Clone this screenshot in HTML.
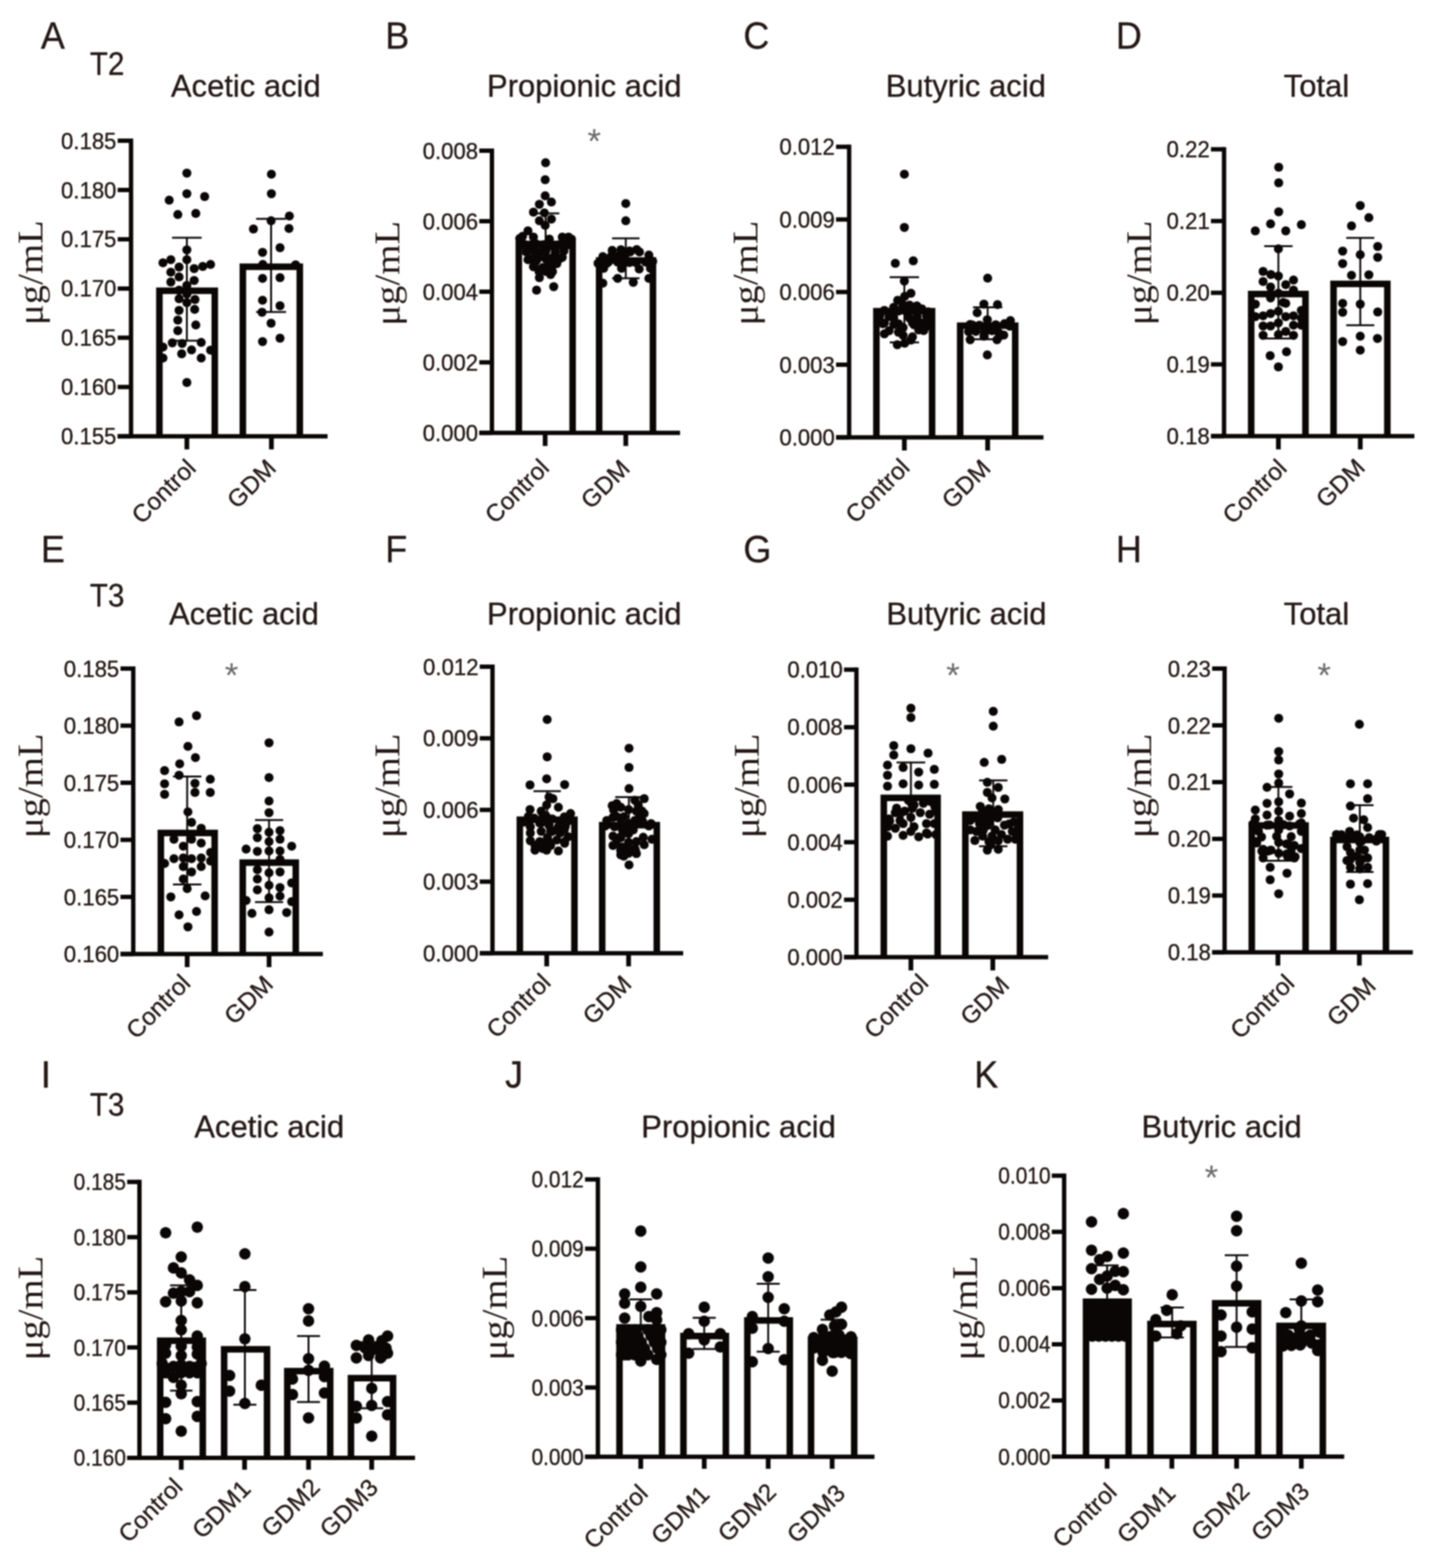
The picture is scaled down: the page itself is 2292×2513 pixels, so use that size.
<!DOCTYPE html>
<html lang="en"><head><meta charset="utf-8"><title>SCFA levels: Control vs GDM</title>
<style>html,body{margin:0;padding:0;background:#fff}body{width:2292px;height:2513px;overflow:hidden}svg{display:block;filter:blur(0.85px)}</style>
</head><body>
<svg width="2292" height="2513" viewBox="0 0 2292 2513">
<rect width="2292" height="2513" fill="#fff"/>
<g stroke="#0a0606" fill="none">
<path d="M255.50 699.15V466.00H344.25V699.15" stroke-width="10.5" fill="#fff" stroke-linejoin="miter"/>
<path d="M389.25 699.15V427.50H480.50V699.15" stroke-width="10.5" fill="#fff" stroke-linejoin="miter"/>
<path d="M275.75 381.00H323.25M299.50 381.00V546.00M275.75 546.00H323.25" stroke-width="3.0"/>
<path d="M410.50 350.75H458.50M434.50 350.75V500.00M410.50 500.00H458.50" stroke-width="3.0"/>
<path d="M210.00 222.10V699.15M188.60 699.15H525.00" stroke-width="7.0"/>
<path d="M188.60 225.60H210.00M188.60 304.52H210.00M188.60 383.45H210.00M188.60 462.38H210.00M188.60 541.30H210.00M188.60 620.23H210.00M188.60 699.15H210.00" stroke-width="7.0"/>
<path d="M299.50 699.15V720.25M435.00 699.15V720.25" stroke-width="7.6"/>
</g>
<g fill="#0a0606">
<circle cx="299.5" cy="277.5" r="7.25"/>
<circle cx="299.5" cy="310.5" r="7.25"/>
<circle cx="271.2" cy="320.8" r="7.25"/>
<circle cx="328.0" cy="315.0" r="7.25"/>
<circle cx="285.0" cy="343.8" r="7.25"/>
<circle cx="313.8" cy="342.0" r="7.25"/>
<circle cx="299.5" cy="400.5" r="7.25"/>
<circle cx="299.5" cy="416.2" r="7.25"/>
<circle cx="261.2" cy="421.2" r="7.25"/>
<circle cx="273.8" cy="416.2" r="7.25"/>
<circle cx="287.0" cy="428.0" r="7.25"/>
<circle cx="311.2" cy="430.5" r="7.25"/>
<circle cx="325.0" cy="427.0" r="7.25"/>
<circle cx="337.5" cy="423.8" r="7.25"/>
<circle cx="273.8" cy="436.2" r="7.25"/>
<circle cx="287.0" cy="443.8" r="7.25"/>
<circle cx="273.8" cy="452.0" r="7.25"/>
<circle cx="311.2" cy="449.5" r="7.25"/>
<circle cx="299.5" cy="457.5" r="7.25"/>
<circle cx="287.0" cy="465.0" r="7.25"/>
<circle cx="299.5" cy="471.2" r="7.25"/>
<circle cx="287.0" cy="478.8" r="7.25"/>
<circle cx="312.5" cy="480.0" r="7.25"/>
<circle cx="299.5" cy="485.0" r="7.25"/>
<circle cx="287.0" cy="497.5" r="7.25"/>
<circle cx="312.0" cy="495.8" r="7.25"/>
<circle cx="285.0" cy="513.0" r="7.25"/>
<circle cx="313.8" cy="520.8" r="7.25"/>
<circle cx="285.0" cy="530.0" r="7.25"/>
<circle cx="276.2" cy="549.5" r="7.25"/>
<circle cx="292.0" cy="550.5" r="7.25"/>
<circle cx="322.5" cy="548.8" r="7.25"/>
<circle cx="261.2" cy="556.2" r="7.25"/>
<circle cx="307.0" cy="560.8" r="7.25"/>
<circle cx="337.5" cy="561.2" r="7.25"/>
<circle cx="291.2" cy="567.0" r="7.25"/>
<circle cx="261.2" cy="573.8" r="7.25"/>
<circle cx="322.5" cy="573.8" r="7.25"/>
<circle cx="299.5" cy="613.0" r="7.25"/>
<circle cx="435.0" cy="279.2" r="7.25"/>
<circle cx="435.0" cy="310.5" r="7.25"/>
<circle cx="463.8" cy="346.2" r="7.25"/>
<circle cx="434.5" cy="353.8" r="7.25"/>
<circle cx="406.2" cy="367.0" r="7.25"/>
<circle cx="463.2" cy="366.2" r="7.25"/>
<circle cx="448.8" cy="397.0" r="7.25"/>
<circle cx="420.8" cy="404.5" r="7.25"/>
<circle cx="421.2" cy="423.8" r="7.25"/>
<circle cx="473.8" cy="424.5" r="7.25"/>
<circle cx="420.8" cy="446.2" r="7.25"/>
<circle cx="448.8" cy="445.0" r="7.25"/>
<circle cx="420.8" cy="481.2" r="7.25"/>
<circle cx="448.8" cy="490.0" r="7.25"/>
<circle cx="420.0" cy="500.5" r="7.25"/>
<circle cx="434.5" cy="518.0" r="7.25"/>
<circle cx="448.8" cy="542.0" r="7.25"/>
<circle cx="420.8" cy="547.5" r="7.25"/>
</g>
<g stroke="#0a0606" fill="none">
<path d="M831.55 693.70V391.00H917.80V693.70" stroke-width="10.5" fill="#fff" stroke-linejoin="miter"/>
<path d="M960.30 693.70V417.50H1046.55V693.70" stroke-width="10.5" fill="#fff" stroke-linejoin="miter"/>
<path d="M852.50 342.00H896.50M874.50 342.00V435.00" stroke-width="3.0"/>
<path d="M981.00 382.00H1025.00M1003.00 382.00V446.00M981.00 446.00H1025.00" stroke-width="3.0"/>
<path d="M788.45 238.00V693.70M768.20 693.70H1090.00" stroke-width="7.0"/>
<path d="M768.20 241.50H788.45M768.20 354.55H788.45M768.20 467.60H788.45M768.20 580.65H788.45M768.20 693.70H788.45" stroke-width="7.0"/>
<path d="M873.75 693.70V714.80M1003.00 693.70V714.80" stroke-width="7.6"/>
</g>
<g fill="#0a0606">
<circle cx="874.5" cy="260.8" r="7.25"/>
<circle cx="873.8" cy="288.0" r="7.25"/>
<circle cx="873.8" cy="313.8" r="7.25"/>
<circle cx="883.8" cy="323.8" r="7.25"/>
<circle cx="864.5" cy="327.5" r="7.25"/>
<circle cx="855.0" cy="340.0" r="7.25"/>
<circle cx="872.5" cy="341.2" r="7.25"/>
<circle cx="883.8" cy="351.2" r="7.25"/>
<circle cx="864.5" cy="353.8" r="7.25"/>
<circle cx="873.8" cy="361.2" r="7.25"/>
<circle cx="846.2" cy="370.0" r="7.25"/>
<circle cx="837.5" cy="378.8" r="7.25"/>
<circle cx="855.0" cy="380.0" r="7.25"/>
<circle cx="901.2" cy="380.0" r="7.25"/>
<circle cx="911.2" cy="380.0" r="7.25"/>
<circle cx="840.0" cy="393.8" r="7.25"/>
<circle cx="850.0" cy="395.0" r="7.25"/>
<circle cx="860.0" cy="391.2" r="7.25"/>
<circle cx="870.0" cy="392.5" r="7.25"/>
<circle cx="882.5" cy="393.8" r="7.25"/>
<circle cx="895.0" cy="392.5" r="7.25"/>
<circle cx="907.5" cy="391.2" r="7.25"/>
<circle cx="860.0" cy="403.8" r="7.25"/>
<circle cx="875.0" cy="402.5" r="7.25"/>
<circle cx="890.0" cy="403.8" r="7.25"/>
<circle cx="901.2" cy="412.5" r="7.25"/>
<circle cx="846.2" cy="416.2" r="7.25"/>
<circle cx="860.0" cy="417.5" r="7.25"/>
<circle cx="875.0" cy="415.0" r="7.25"/>
<circle cx="892.5" cy="422.5" r="7.25"/>
<circle cx="855.0" cy="427.5" r="7.25"/>
<circle cx="870.0" cy="428.8" r="7.25"/>
<circle cx="883.8" cy="430.0" r="7.25"/>
<circle cx="875.0" cy="435.0" r="7.25"/>
<circle cx="882.5" cy="440.0" r="7.25"/>
<circle cx="864.5" cy="445.0" r="7.25"/>
<circle cx="887.5" cy="459.5" r="7.25"/>
<circle cx="860.0" cy="465.0" r="7.25"/>
<circle cx="833.0" cy="382.2" r="7.25"/>
<circle cx="880.5" cy="383.2" r="7.25"/>
<circle cx="903.0" cy="382.2" r="7.25"/>
<circle cx="916.0" cy="383.2" r="7.25"/>
<circle cx="839.8" cy="391.5" r="7.25"/>
<circle cx="873.2" cy="392.0" r="7.25"/>
<circle cx="897.2" cy="393.0" r="7.25"/>
<circle cx="909.2" cy="392.8" r="7.25"/>
<circle cx="843.5" cy="403.8" r="7.25"/>
<circle cx="856.8" cy="403.8" r="7.25"/>
<circle cx="869.5" cy="402.5" r="7.25"/>
<circle cx="903.8" cy="402.2" r="7.25"/>
<circle cx="849.8" cy="414.8" r="7.25"/>
<circle cx="862.8" cy="413.2" r="7.25"/>
<circle cx="875.8" cy="413.5" r="7.25"/>
<circle cx="885.0" cy="413.2" r="7.25"/>
<circle cx="897.0" cy="414.5" r="7.25"/>
<circle cx="856.5" cy="425.2" r="7.25"/>
<circle cx="882.0" cy="423.2" r="7.25"/>
<circle cx="863.8" cy="434.8" r="7.25"/>
<circle cx="885.5" cy="435.5" r="7.25"/>
<circle cx="1003.0" cy="326.2" r="7.25"/>
<circle cx="1003.0" cy="353.8" r="7.25"/>
<circle cx="981.2" cy="401.2" r="7.25"/>
<circle cx="996.2" cy="405.0" r="7.25"/>
<circle cx="1010.0" cy="403.8" r="7.25"/>
<circle cx="1025.0" cy="403.8" r="7.25"/>
<circle cx="1040.0" cy="408.8" r="7.25"/>
<circle cx="966.2" cy="411.2" r="7.25"/>
<circle cx="961.2" cy="420.0" r="7.25"/>
<circle cx="975.0" cy="420.0" r="7.25"/>
<circle cx="990.0" cy="420.0" r="7.25"/>
<circle cx="1005.0" cy="420.0" r="7.25"/>
<circle cx="1020.0" cy="420.0" r="7.25"/>
<circle cx="1035.0" cy="420.0" r="7.25"/>
<circle cx="1046.2" cy="418.8" r="7.25"/>
<circle cx="967.5" cy="430.0" r="7.25"/>
<circle cx="996.2" cy="430.0" r="7.25"/>
<circle cx="1024.5" cy="431.2" r="7.25"/>
<circle cx="1042.5" cy="430.0" r="7.25"/>
<circle cx="990.0" cy="446.2" r="7.25"/>
<circle cx="1040.0" cy="446.2" r="7.25"/>
<circle cx="966.2" cy="453.8" r="7.25"/>
<circle cx="1015.0" cy="452.5" r="7.25"/>
<circle cx="995.2" cy="400.2" r="7.25"/>
<circle cx="1009.0" cy="402.2" r="7.25"/>
<circle cx="1020.5" cy="400.0" r="7.25"/>
<circle cx="979.5" cy="411.0" r="7.25"/>
<circle cx="990.5" cy="410.5" r="7.25"/>
<circle cx="1001.2" cy="410.5" r="7.25"/>
<circle cx="958.5" cy="422.0" r="7.25"/>
<circle cx="972.5" cy="422.0" r="7.25"/>
<circle cx="994.8" cy="422.0" r="7.25"/>
<circle cx="1008.8" cy="420.8" r="7.25"/>
<circle cx="1018.8" cy="420.8" r="7.25"/>
</g>
<g stroke="#0a0606" fill="none">
<path d="M1404.70 700.90V498.75H1493.95V700.90" stroke-width="10.5" fill="#fff" stroke-linejoin="miter"/>
<path d="M1538.95 700.90V522.00H1627.20V700.90" stroke-width="10.5" fill="#fff" stroke-linejoin="miter"/>
<path d="M1426.00 444.25H1473.00M1449.50 444.25V548.75M1426.00 548.75H1473.00" stroke-width="3.0"/>
<path d="M1559.50 492.50H1606.50M1583.00 492.50V543.75M1559.50 543.75H1606.50" stroke-width="3.0"/>
<path d="M1361.00 231.80V700.90M1340.00 700.90H1672.50" stroke-width="7.0"/>
<path d="M1340.00 235.30H1361.00M1340.00 351.70H1361.00M1340.00 468.10H1361.00M1340.00 584.50H1361.00M1340.00 700.90H1361.00" stroke-width="7.0"/>
<path d="M1449.50 700.90V722.00M1583.00 700.90V722.00" stroke-width="7.6"/>
</g>
<g fill="#0a0606">
<circle cx="1449.5" cy="279.2" r="7.25"/>
<circle cx="1449.5" cy="364.5" r="7.25"/>
<circle cx="1435.0" cy="422.0" r="7.25"/>
<circle cx="1463.8" cy="418.0" r="7.25"/>
<circle cx="1449.5" cy="450.5" r="7.25"/>
<circle cx="1460.0" cy="470.0" r="7.25"/>
<circle cx="1450.0" cy="475.0" r="7.25"/>
<circle cx="1438.8" cy="481.2" r="7.25"/>
<circle cx="1417.5" cy="497.5" r="7.25"/>
<circle cx="1432.5" cy="492.5" r="7.25"/>
<circle cx="1447.5" cy="492.5" r="7.25"/>
<circle cx="1462.5" cy="492.5" r="7.25"/>
<circle cx="1477.5" cy="495.0" r="7.25"/>
<circle cx="1410.0" cy="506.2" r="7.25"/>
<circle cx="1425.0" cy="507.5" r="7.25"/>
<circle cx="1455.0" cy="503.8" r="7.25"/>
<circle cx="1470.0" cy="507.5" r="7.25"/>
<circle cx="1485.0" cy="506.2" r="7.25"/>
<circle cx="1417.5" cy="517.5" r="7.25"/>
<circle cx="1432.5" cy="520.0" r="7.25"/>
<circle cx="1447.5" cy="525.0" r="7.25"/>
<circle cx="1462.5" cy="517.5" r="7.25"/>
<circle cx="1477.5" cy="517.5" r="7.25"/>
<circle cx="1487.5" cy="513.8" r="7.25"/>
<circle cx="1425.0" cy="530.0" r="7.25"/>
<circle cx="1440.0" cy="532.5" r="7.25"/>
<circle cx="1472.5" cy="528.8" r="7.25"/>
<circle cx="1482.5" cy="525.0" r="7.25"/>
<circle cx="1417.5" cy="535.0" r="7.25"/>
<circle cx="1447.5" cy="537.5" r="7.25"/>
<circle cx="1460.0" cy="545.0" r="7.25"/>
<circle cx="1450.0" cy="550.0" r="7.25"/>
<circle cx="1438.2" cy="552.5" r="7.25"/>
<circle cx="1447.0" cy="488.0" r="7.25"/>
<circle cx="1457.8" cy="489.0" r="7.25"/>
<circle cx="1469.5" cy="490.2" r="7.25"/>
<circle cx="1429.5" cy="499.8" r="7.25"/>
<circle cx="1440.0" cy="498.5" r="7.25"/>
<circle cx="1487.8" cy="499.8" r="7.25"/>
<circle cx="1432.5" cy="509.2" r="7.25"/>
<circle cx="1458.0" cy="510.2" r="7.25"/>
<circle cx="1415.0" cy="518.8" r="7.25"/>
<circle cx="1440.2" cy="519.0" r="7.25"/>
<circle cx="1465.0" cy="520.5" r="7.25"/>
<circle cx="1475.0" cy="518.8" r="7.25"/>
<circle cx="1487.5" cy="519.5" r="7.25"/>
<circle cx="1480.5" cy="529.8" r="7.25"/>
<circle cx="1462.5" cy="539.8" r="7.25"/>
<circle cx="1583.0" cy="445.8" r="7.25"/>
<circle cx="1577.0" cy="487.5" r="7.25"/>
<circle cx="1598.8" cy="488.2" r="7.25"/>
<circle cx="1566.2" cy="501.2" r="7.25"/>
<circle cx="1582.5" cy="512.5" r="7.25"/>
<circle cx="1555.0" cy="520.0" r="7.25"/>
<circle cx="1568.8" cy="522.5" r="7.25"/>
<circle cx="1596.2" cy="521.2" r="7.25"/>
<circle cx="1610.0" cy="518.8" r="7.25"/>
<circle cx="1619.5" cy="513.8" r="7.25"/>
<circle cx="1582.5" cy="525.0" r="7.25"/>
<circle cx="1590.0" cy="530.0" r="7.25"/>
<circle cx="1577.0" cy="538.8" r="7.25"/>
<circle cx="1608.8" cy="537.0" r="7.25"/>
<circle cx="1555.0" cy="544.5" r="7.25"/>
<circle cx="1598.0" cy="544.5" r="7.25"/>
<circle cx="1582.5" cy="568.8" r="7.25"/>
<circle cx="1558.8" cy="521.0" r="7.25"/>
<circle cx="1569.8" cy="521.2" r="7.25"/>
<circle cx="1596.0" cy="520.5" r="7.25"/>
<circle cx="1618.5" cy="522.8" r="7.25"/>
<circle cx="1552.5" cy="531.5" r="7.25"/>
<circle cx="1564.0" cy="531.2" r="7.25"/>
<circle cx="1577.8" cy="532.8" r="7.25"/>
<circle cx="1600.8" cy="533.5" r="7.25"/>
</g>
<g stroke="#0a0606" fill="none">
<path d="M2005.40 699.10V471.25H2092.40V699.10" stroke-width="10.5" fill="#fff" stroke-linejoin="miter"/>
<path d="M2137.40 699.10V455.00H2223.65V699.10" stroke-width="10.5" fill="#fff" stroke-linejoin="miter"/>
<path d="M2026.25 394.50H2071.75M2049.00 394.50V542.50M2026.25 542.50H2071.75" stroke-width="3.0"/>
<path d="M2157.75 381.25H2202.75M2180.25 381.25V521.25M2157.75 521.25H2202.75" stroke-width="3.0"/>
<path d="M1961.90 235.70V699.10M1940.90 699.10H2267.00" stroke-width="7.0"/>
<path d="M1940.90 239.20H1961.90M1940.90 354.18H1961.90M1940.90 469.15H1961.90M1940.90 584.12H1961.90M1940.90 699.10H1961.90" stroke-width="7.0"/>
<path d="M2049.00 699.10V720.20M2180.25 699.10V720.20" stroke-width="7.6"/>
</g>
<g fill="#0a0606">
<circle cx="2049.5" cy="268.0" r="7.25"/>
<circle cx="2049.5" cy="293.0" r="7.25"/>
<circle cx="2049.5" cy="339.5" r="7.25"/>
<circle cx="2036.5" cy="358.8" r="7.25"/>
<circle cx="2085.8" cy="360.0" r="7.25"/>
<circle cx="2012.0" cy="370.0" r="7.25"/>
<circle cx="2060.8" cy="370.0" r="7.25"/>
<circle cx="2049.0" cy="398.8" r="7.25"/>
<circle cx="2024.5" cy="435.0" r="7.25"/>
<circle cx="2037.0" cy="440.0" r="7.25"/>
<circle cx="2049.0" cy="442.5" r="7.25"/>
<circle cx="2073.2" cy="448.8" r="7.25"/>
<circle cx="2024.5" cy="451.2" r="7.25"/>
<circle cx="2060.8" cy="456.2" r="7.25"/>
<circle cx="2036.5" cy="460.0" r="7.25"/>
<circle cx="2073.2" cy="465.0" r="7.25"/>
<circle cx="2049.0" cy="470.0" r="7.25"/>
<circle cx="2036.5" cy="477.5" r="7.25"/>
<circle cx="2012.0" cy="487.5" r="7.25"/>
<circle cx="2060.8" cy="486.2" r="7.25"/>
<circle cx="2085.8" cy="497.5" r="7.25"/>
<circle cx="2049.0" cy="498.8" r="7.25"/>
<circle cx="2036.5" cy="502.5" r="7.25"/>
<circle cx="2024.5" cy="506.2" r="7.25"/>
<circle cx="2012.0" cy="507.5" r="7.25"/>
<circle cx="2060.8" cy="507.5" r="7.25"/>
<circle cx="2073.2" cy="506.2" r="7.25"/>
<circle cx="2085.8" cy="510.0" r="7.25"/>
<circle cx="2049.0" cy="517.5" r="7.25"/>
<circle cx="2073.2" cy="521.2" r="7.25"/>
<circle cx="2036.5" cy="522.5" r="7.25"/>
<circle cx="2024.5" cy="522.5" r="7.25"/>
<circle cx="2085.8" cy="521.2" r="7.25"/>
<circle cx="2060.8" cy="531.2" r="7.25"/>
<circle cx="2049.0" cy="536.2" r="7.25"/>
<circle cx="2024.5" cy="537.5" r="7.25"/>
<circle cx="2073.2" cy="537.5" r="7.25"/>
<circle cx="2062.0" cy="563.8" r="7.25"/>
<circle cx="2035.8" cy="570.0" r="7.25"/>
<circle cx="2049.0" cy="588.0" r="7.25"/>
<circle cx="2056.8" cy="484.8" r="7.25"/>
<circle cx="2008.2" cy="507.0" r="7.25"/>
<circle cx="2180.2" cy="329.5" r="7.25"/>
<circle cx="2194.0" cy="348.8" r="7.25"/>
<circle cx="2166.2" cy="362.0" r="7.25"/>
<circle cx="2208.2" cy="395.0" r="7.25"/>
<circle cx="2152.0" cy="402.5" r="7.25"/>
<circle cx="2180.2" cy="408.2" r="7.25"/>
<circle cx="2208.2" cy="412.5" r="7.25"/>
<circle cx="2152.0" cy="422.5" r="7.25"/>
<circle cx="2166.2" cy="441.2" r="7.25"/>
<circle cx="2194.0" cy="440.5" r="7.25"/>
<circle cx="2152.0" cy="486.2" r="7.25"/>
<circle cx="2180.2" cy="487.5" r="7.25"/>
<circle cx="2152.0" cy="500.5" r="7.25"/>
<circle cx="2208.2" cy="500.0" r="7.25"/>
<circle cx="2180.2" cy="538.8" r="7.25"/>
<circle cx="2152.0" cy="547.5" r="7.25"/>
<circle cx="2207.8" cy="542.5" r="7.25"/>
<circle cx="2180.2" cy="561.2" r="7.25"/>
</g>
<g stroke="#0a0606" fill="none">
<path d="M257.80 1529.00V1335.00H344.05V1529.00" stroke-width="10.5" fill="#fff" stroke-linejoin="miter"/>
<path d="M389.05 1529.00V1382.50H474.05V1529.00" stroke-width="10.5" fill="#fff" stroke-linejoin="miter"/>
<path d="M277.25 1244.50H322.75M300.00 1244.50V1417.50M277.25 1417.50H322.75" stroke-width="3.0"/>
<path d="M408.65 1314.25H453.85M431.25 1314.25V1445.75M408.65 1445.75H453.85" stroke-width="3.0"/>
<path d="M213.60 1068.00V1529.00M193.10 1529.00H517.50" stroke-width="7.0"/>
<path d="M193.10 1071.50H213.60M193.10 1163.00H213.60M193.10 1254.50H213.60M193.10 1346.00H213.60M193.10 1437.50H213.60M193.10 1529.00H213.60" stroke-width="7.0"/>
<path d="M300.00 1529.00V1550.10M431.25 1529.00V1550.10" stroke-width="7.6"/>
</g>
<g fill="#0a0606">
<circle cx="315.0" cy="1147.0" r="7.25"/>
<circle cx="287.0" cy="1157.0" r="7.25"/>
<circle cx="301.2" cy="1196.2" r="7.25"/>
<circle cx="313.2" cy="1214.2" r="7.25"/>
<circle cx="288.0" cy="1224.2" r="7.25"/>
<circle cx="263.8" cy="1235.0" r="7.25"/>
<circle cx="287.0" cy="1242.5" r="7.25"/>
<circle cx="337.0" cy="1248.8" r="7.25"/>
<circle cx="263.8" cy="1256.2" r="7.25"/>
<circle cx="312.5" cy="1255.5" r="7.25"/>
<circle cx="312.5" cy="1270.0" r="7.25"/>
<circle cx="337.0" cy="1270.0" r="7.25"/>
<circle cx="263.8" cy="1273.0" r="7.25"/>
<circle cx="301.2" cy="1301.2" r="7.25"/>
<circle cx="307.0" cy="1318.0" r="7.25"/>
<circle cx="322.5" cy="1327.5" r="7.25"/>
<circle cx="278.8" cy="1345.0" r="7.25"/>
<circle cx="307.0" cy="1345.0" r="7.25"/>
<circle cx="322.5" cy="1351.2" r="7.25"/>
<circle cx="293.8" cy="1356.2" r="7.25"/>
<circle cx="337.5" cy="1366.2" r="7.25"/>
<circle cx="278.8" cy="1376.2" r="7.25"/>
<circle cx="293.8" cy="1375.0" r="7.25"/>
<circle cx="307.0" cy="1376.2" r="7.25"/>
<circle cx="322.5" cy="1375.0" r="7.25"/>
<circle cx="337.5" cy="1380.0" r="7.25"/>
<circle cx="263.8" cy="1383.8" r="7.25"/>
<circle cx="293.8" cy="1388.8" r="7.25"/>
<circle cx="322.5" cy="1388.8" r="7.25"/>
<circle cx="307.0" cy="1397.5" r="7.25"/>
<circle cx="293.8" cy="1408.8" r="7.25"/>
<circle cx="300.0" cy="1424.2" r="7.25"/>
<circle cx="273.8" cy="1437.5" r="7.25"/>
<circle cx="328.8" cy="1435.8" r="7.25"/>
<circle cx="315.0" cy="1460.8" r="7.25"/>
<circle cx="287.0" cy="1466.2" r="7.25"/>
<circle cx="301.2" cy="1485.5" r="7.25"/>
<circle cx="431.2" cy="1190.5" r="7.25"/>
<circle cx="431.2" cy="1246.2" r="7.25"/>
<circle cx="431.2" cy="1283.8" r="7.25"/>
<circle cx="431.2" cy="1302.5" r="7.25"/>
<circle cx="412.5" cy="1328.0" r="7.25"/>
<circle cx="448.8" cy="1331.2" r="7.25"/>
<circle cx="431.2" cy="1333.8" r="7.25"/>
<circle cx="412.5" cy="1342.5" r="7.25"/>
<circle cx="431.2" cy="1348.8" r="7.25"/>
<circle cx="448.8" cy="1345.0" r="7.25"/>
<circle cx="467.5" cy="1356.2" r="7.25"/>
<circle cx="394.5" cy="1360.8" r="7.25"/>
<circle cx="412.5" cy="1364.5" r="7.25"/>
<circle cx="431.2" cy="1363.8" r="7.25"/>
<circle cx="448.8" cy="1363.8" r="7.25"/>
<circle cx="448.8" cy="1377.5" r="7.25"/>
<circle cx="412.5" cy="1393.8" r="7.25"/>
<circle cx="431.2" cy="1398.8" r="7.25"/>
<circle cx="448.8" cy="1397.5" r="7.25"/>
<circle cx="412.5" cy="1408.8" r="7.25"/>
<circle cx="467.5" cy="1415.0" r="7.25"/>
<circle cx="431.2" cy="1418.8" r="7.25"/>
<circle cx="448.8" cy="1422.5" r="7.25"/>
<circle cx="412.5" cy="1426.2" r="7.25"/>
<circle cx="448.8" cy="1436.2" r="7.25"/>
<circle cx="431.2" cy="1438.8" r="7.25"/>
<circle cx="394.5" cy="1443.2" r="7.25"/>
<circle cx="467.5" cy="1445.0" r="7.25"/>
<circle cx="431.2" cy="1458.0" r="7.25"/>
<circle cx="403.8" cy="1463.8" r="7.25"/>
<circle cx="459.5" cy="1462.5" r="7.25"/>
<circle cx="431.2" cy="1493.8" r="7.25"/>
</g>
<g stroke="#0a0606" fill="none">
<path d="M833.20 1527.70V1313.75H920.70V1527.70" stroke-width="10.5" fill="#fff" stroke-linejoin="miter"/>
<path d="M965.20 1527.70V1322.50H1052.70V1527.70" stroke-width="10.5" fill="#fff" stroke-linejoin="miter"/>
<path d="M855.00 1268.00H899.00M877.00 1268.00V1354.50" stroke-width="3.0"/>
<path d="M986.00 1277.50H1030.00M1008.00 1277.50V1362.50" stroke-width="3.0"/>
<path d="M789.35 1065.00V1527.70M768.90 1527.70H1095.00" stroke-width="7.0"/>
<path d="M768.90 1068.50H789.35M768.90 1183.30H789.35M768.90 1298.10H789.35M768.90 1412.90H789.35M768.90 1527.70H789.35" stroke-width="7.0"/>
<path d="M876.25 1527.70V1548.80M1007.50 1527.70V1548.80" stroke-width="7.6"/>
</g>
<g fill="#0a0606">
<circle cx="877.0" cy="1153.2" r="7.25"/>
<circle cx="877.0" cy="1213.0" r="7.25"/>
<circle cx="876.2" cy="1248.2" r="7.25"/>
<circle cx="849.5" cy="1258.0" r="7.25"/>
<circle cx="905.0" cy="1257.5" r="7.25"/>
<circle cx="880.0" cy="1277.5" r="7.25"/>
<circle cx="886.2" cy="1280.0" r="7.25"/>
<circle cx="876.2" cy="1290.0" r="7.25"/>
<circle cx="895.0" cy="1293.8" r="7.25"/>
<circle cx="849.5" cy="1297.5" r="7.25"/>
<circle cx="867.5" cy="1300.0" r="7.25"/>
<circle cx="914.5" cy="1303.8" r="7.25"/>
<circle cx="875.0" cy="1307.5" r="7.25"/>
<circle cx="856.2" cy="1311.2" r="7.25"/>
<circle cx="885.0" cy="1312.5" r="7.25"/>
<circle cx="900.0" cy="1315.0" r="7.25"/>
<circle cx="840.0" cy="1317.5" r="7.25"/>
<circle cx="867.5" cy="1318.8" r="7.25"/>
<circle cx="912.5" cy="1315.0" r="7.25"/>
<circle cx="850.0" cy="1325.0" r="7.25"/>
<circle cx="880.0" cy="1322.5" r="7.25"/>
<circle cx="895.0" cy="1325.0" r="7.25"/>
<circle cx="906.2" cy="1323.8" r="7.25"/>
<circle cx="867.5" cy="1332.5" r="7.25"/>
<circle cx="885.0" cy="1332.5" r="7.25"/>
<circle cx="850.0" cy="1335.0" r="7.25"/>
<circle cx="897.5" cy="1335.0" r="7.25"/>
<circle cx="877.5" cy="1342.5" r="7.25"/>
<circle cx="850.0" cy="1347.5" r="7.25"/>
<circle cx="865.0" cy="1348.8" r="7.25"/>
<circle cx="892.5" cy="1346.2" r="7.25"/>
<circle cx="905.0" cy="1348.8" r="7.25"/>
<circle cx="857.5" cy="1355.0" r="7.25"/>
<circle cx="882.5" cy="1355.0" r="7.25"/>
<circle cx="870.0" cy="1360.0" r="7.25"/>
<circle cx="857.5" cy="1362.5" r="7.25"/>
<circle cx="876.2" cy="1362.5" r="7.25"/>
<circle cx="895.0" cy="1363.8" r="7.25"/>
<circle cx="847.0" cy="1308.5" r="7.25"/>
<circle cx="870.5" cy="1308.5" r="7.25"/>
<circle cx="904.5" cy="1309.2" r="7.25"/>
<circle cx="865.0" cy="1319.0" r="7.25"/>
<circle cx="893.0" cy="1329.0" r="7.25"/>
<circle cx="904.8" cy="1329.0" r="7.25"/>
<circle cx="910.5" cy="1341.0" r="7.25"/>
<circle cx="870.8" cy="1350.0" r="7.25"/>
<circle cx="882.8" cy="1351.0" r="7.25"/>
<circle cx="905.0" cy="1351.5" r="7.25"/>
<circle cx="875.5" cy="1361.5" r="7.25"/>
<circle cx="1008.2" cy="1199.2" r="7.25"/>
<circle cx="1008.2" cy="1230.0" r="7.25"/>
<circle cx="1008.2" cy="1263.8" r="7.25"/>
<circle cx="1032.5" cy="1280.0" r="7.25"/>
<circle cx="1017.5" cy="1282.5" r="7.25"/>
<circle cx="981.2" cy="1291.2" r="7.25"/>
<circle cx="995.0" cy="1293.8" r="7.25"/>
<circle cx="1007.5" cy="1297.5" r="7.25"/>
<circle cx="1020.0" cy="1300.0" r="7.25"/>
<circle cx="1032.5" cy="1303.8" r="7.25"/>
<circle cx="982.5" cy="1310.0" r="7.25"/>
<circle cx="995.0" cy="1312.5" r="7.25"/>
<circle cx="972.5" cy="1315.0" r="7.25"/>
<circle cx="1017.5" cy="1315.0" r="7.25"/>
<circle cx="1030.0" cy="1316.2" r="7.25"/>
<circle cx="1007.5" cy="1320.0" r="7.25"/>
<circle cx="970.0" cy="1323.8" r="7.25"/>
<circle cx="985.0" cy="1325.0" r="7.25"/>
<circle cx="1040.0" cy="1323.8" r="7.25"/>
<circle cx="997.5" cy="1330.0" r="7.25"/>
<circle cx="1015.0" cy="1330.0" r="7.25"/>
<circle cx="1007.5" cy="1336.2" r="7.25"/>
<circle cx="982.5" cy="1340.0" r="7.25"/>
<circle cx="995.0" cy="1342.5" r="7.25"/>
<circle cx="1020.0" cy="1348.8" r="7.25"/>
<circle cx="1045.0" cy="1345.0" r="7.25"/>
<circle cx="1007.5" cy="1350.0" r="7.25"/>
<circle cx="1032.5" cy="1353.8" r="7.25"/>
<circle cx="982.5" cy="1355.0" r="7.25"/>
<circle cx="997.5" cy="1357.5" r="7.25"/>
<circle cx="1017.5" cy="1360.0" r="7.25"/>
<circle cx="995.0" cy="1370.0" r="7.25"/>
<circle cx="1007.5" cy="1367.5" r="7.25"/>
<circle cx="1020.0" cy="1368.0" r="7.25"/>
<circle cx="1008.2" cy="1386.2" r="7.25"/>
<circle cx="988.5" cy="1287.8" r="7.25"/>
<circle cx="1023.0" cy="1290.2" r="7.25"/>
<circle cx="983.5" cy="1298.2" r="7.25"/>
<circle cx="1029.0" cy="1299.8" r="7.25"/>
<circle cx="988.5" cy="1308.8" r="7.25"/>
<circle cx="999.8" cy="1309.0" r="7.25"/>
<circle cx="1025.2" cy="1308.5" r="7.25"/>
<circle cx="1043.5" cy="1320.0" r="7.25"/>
<circle cx="1001.5" cy="1330.5" r="7.25"/>
<circle cx="995.0" cy="1341.0" r="7.25"/>
<circle cx="1031.0" cy="1341.8" r="7.25"/>
<circle cx="987.5" cy="1352.0" r="7.25"/>
<circle cx="994.8" cy="1363.0" r="7.25"/>
<circle cx="1006.8" cy="1362.2" r="7.25"/>
<circle cx="1018.5" cy="1363.0" r="7.25"/>
<circle cx="999.8" cy="1372.2" r="7.25"/>
</g>
<g stroke="#0a0606" fill="none">
<path d="M1416.55 1534.10V1278.75H1502.80V1534.10" stroke-width="10.5" fill="#fff" stroke-linejoin="miter"/>
<path d="M1547.30 1534.10V1305.50H1634.80V1534.10" stroke-width="10.5" fill="#fff" stroke-linejoin="miter"/>
<path d="M1437.00 1222.00H1483.00M1460.00 1222.00V1330.50" stroke-width="3.0"/>
<path d="M1569.25 1250.75H1614.75M1592.00 1250.75V1356.25M1569.25 1356.25H1614.75" stroke-width="3.0"/>
<path d="M1372.70 1069.70V1534.10M1352.80 1534.10H1680.00" stroke-width="7.0"/>
<path d="M1352.80 1073.20H1372.70M1352.80 1165.38H1372.70M1352.80 1257.56H1372.70M1352.80 1349.74H1372.70M1352.80 1441.92H1372.70M1352.80 1534.10H1372.70" stroke-width="7.0"/>
<path d="M1460.00 1534.10V1555.20M1591.25 1534.10V1555.20" stroke-width="7.6"/>
</g>
<g fill="#0a0606">
<circle cx="1460.0" cy="1135.0" r="7.25"/>
<circle cx="1460.0" cy="1150.0" r="7.25"/>
<circle cx="1432.5" cy="1195.0" r="7.25"/>
<circle cx="1460.0" cy="1200.0" r="7.25"/>
<circle cx="1487.5" cy="1207.0" r="7.25"/>
<circle cx="1432.5" cy="1210.0" r="7.25"/>
<circle cx="1422.5" cy="1226.2" r="7.25"/>
<circle cx="1447.5" cy="1230.0" r="7.25"/>
<circle cx="1497.5" cy="1233.0" r="7.25"/>
<circle cx="1472.5" cy="1237.5" r="7.25"/>
<circle cx="1422.5" cy="1242.5" r="7.25"/>
<circle cx="1447.5" cy="1256.2" r="7.25"/>
<circle cx="1472.5" cy="1258.2" r="7.25"/>
<circle cx="1497.5" cy="1257.0" r="7.25"/>
<circle cx="1422.5" cy="1260.0" r="7.25"/>
<circle cx="1460.0" cy="1286.2" r="7.25"/>
<circle cx="1435.0" cy="1302.5" r="7.25"/>
<circle cx="1450.0" cy="1300.0" r="7.25"/>
<circle cx="1465.0" cy="1290.0" r="7.25"/>
<circle cx="1480.0" cy="1287.5" r="7.25"/>
<circle cx="1495.0" cy="1285.0" r="7.25"/>
<circle cx="1425.0" cy="1312.5" r="7.25"/>
<circle cx="1442.5" cy="1315.0" r="7.25"/>
<circle cx="1460.0" cy="1310.0" r="7.25"/>
<circle cx="1475.0" cy="1302.5" r="7.25"/>
<circle cx="1490.0" cy="1305.0" r="7.25"/>
<circle cx="1500.0" cy="1300.0" r="7.25"/>
<circle cx="1422.5" cy="1325.0" r="7.25"/>
<circle cx="1435.0" cy="1327.5" r="7.25"/>
<circle cx="1447.5" cy="1320.0" r="7.25"/>
<circle cx="1465.0" cy="1325.0" r="7.25"/>
<circle cx="1485.0" cy="1320.0" r="7.25"/>
<circle cx="1497.5" cy="1320.0" r="7.25"/>
<circle cx="1422.5" cy="1340.0" r="7.25"/>
<circle cx="1447.5" cy="1338.8" r="7.25"/>
<circle cx="1472.5" cy="1341.2" r="7.25"/>
<circle cx="1485.0" cy="1335.0" r="7.25"/>
<circle cx="1500.0" cy="1337.5" r="7.25"/>
<circle cx="1460.0" cy="1332.5" r="7.25"/>
<circle cx="1455.8" cy="1282.5" r="7.25"/>
<circle cx="1491.8" cy="1284.8" r="7.25"/>
<circle cx="1437.0" cy="1295.2" r="7.25"/>
<circle cx="1462.2" cy="1295.5" r="7.25"/>
<circle cx="1498.5" cy="1293.2" r="7.25"/>
<circle cx="1443.0" cy="1304.0" r="7.25"/>
<circle cx="1426.0" cy="1315.8" r="7.25"/>
<circle cx="1486.8" cy="1336.8" r="7.25"/>
<circle cx="1592.0" cy="1140.0" r="7.25"/>
<circle cx="1592.0" cy="1163.8" r="7.25"/>
<circle cx="1605.5" cy="1217.0" r="7.25"/>
<circle cx="1577.5" cy="1221.8" r="7.25"/>
<circle cx="1582.5" cy="1253.8" r="7.25"/>
<circle cx="1600.0" cy="1262.0" r="7.25"/>
<circle cx="1582.5" cy="1270.0" r="7.25"/>
<circle cx="1590.0" cy="1278.8" r="7.25"/>
<circle cx="1610.5" cy="1280.5" r="7.25"/>
<circle cx="1571.2" cy="1292.5" r="7.25"/>
<circle cx="1585.0" cy="1296.2" r="7.25"/>
<circle cx="1600.0" cy="1297.5" r="7.25"/>
<circle cx="1575.0" cy="1300.0" r="7.25"/>
<circle cx="1555.0" cy="1315.0" r="7.25"/>
<circle cx="1570.0" cy="1320.0" r="7.25"/>
<circle cx="1585.0" cy="1318.8" r="7.25"/>
<circle cx="1610.0" cy="1322.5" r="7.25"/>
<circle cx="1625.0" cy="1317.5" r="7.25"/>
<circle cx="1632.5" cy="1325.0" r="7.25"/>
<circle cx="1555.0" cy="1330.0" r="7.25"/>
<circle cx="1565.0" cy="1332.5" r="7.25"/>
<circle cx="1595.0" cy="1330.0" r="7.25"/>
<circle cx="1622.5" cy="1332.5" r="7.25"/>
<circle cx="1575.0" cy="1340.0" r="7.25"/>
<circle cx="1590.0" cy="1340.0" r="7.25"/>
<circle cx="1605.0" cy="1337.5" r="7.25"/>
<circle cx="1630.0" cy="1340.0" r="7.25"/>
<circle cx="1562.5" cy="1347.0" r="7.25"/>
<circle cx="1585.0" cy="1348.8" r="7.25"/>
<circle cx="1600.0" cy="1347.5" r="7.25"/>
<circle cx="1615.0" cy="1345.0" r="7.25"/>
<circle cx="1627.5" cy="1345.0" r="7.25"/>
<circle cx="1582.5" cy="1362.5" r="7.25"/>
<circle cx="1600.0" cy="1361.2" r="7.25"/>
<circle cx="1563.0" cy="1311.0" r="7.25"/>
<circle cx="1575.5" cy="1311.8" r="7.25"/>
<circle cx="1589.2" cy="1310.0" r="7.25"/>
<circle cx="1599.0" cy="1310.8" r="7.25"/>
<circle cx="1582.8" cy="1323.0" r="7.25"/>
<circle cx="1617.5" cy="1320.5" r="7.25"/>
<circle cx="1575.8" cy="1330.8" r="7.25"/>
<circle cx="1587.8" cy="1354.0" r="7.25"/>
</g>
<g stroke="#0a0606" fill="none">
<path d="M2006.35 1526.30V1323.00H2092.60V1526.30" stroke-width="10.5" fill="#fff" stroke-linejoin="miter"/>
<path d="M2137.10 1526.30V1346.25H2221.35V1526.30" stroke-width="10.5" fill="#fff" stroke-linejoin="miter"/>
<path d="M2026.50 1261.25H2071.50M2049.00 1261.25V1379.50M2026.50 1379.50H2071.50" stroke-width="3.0"/>
<path d="M2157.50 1290.50H2201.50M2179.50 1290.50V1397.50M2157.50 1397.50H2201.50" stroke-width="3.0"/>
<path d="M1962.80 1068.10V1526.30M1942.80 1526.30H2264.50" stroke-width="7.0"/>
<path d="M1942.80 1071.60H1962.80M1942.80 1162.54H1962.80M1942.80 1253.48H1962.80M1942.80 1344.42H1962.80M1942.80 1435.36H1962.80M1942.80 1526.30H1962.80" stroke-width="7.0"/>
<path d="M2048.25 1526.30V1547.40M2178.75 1526.30V1547.40" stroke-width="7.6"/>
</g>
<g fill="#0a0606">
<circle cx="2049.5" cy="1151.2" r="7.25"/>
<circle cx="2049.5" cy="1204.5" r="7.25"/>
<circle cx="2049.5" cy="1218.0" r="7.25"/>
<circle cx="2049.5" cy="1240.5" r="7.25"/>
<circle cx="2049.5" cy="1255.0" r="7.25"/>
<circle cx="2030.8" cy="1261.8" r="7.25"/>
<circle cx="2067.0" cy="1272.5" r="7.25"/>
<circle cx="2049.5" cy="1285.0" r="7.25"/>
<circle cx="2030.8" cy="1287.5" r="7.25"/>
<circle cx="2085.8" cy="1287.0" r="7.25"/>
<circle cx="2012.0" cy="1298.2" r="7.25"/>
<circle cx="2049.5" cy="1300.0" r="7.25"/>
<circle cx="2085.8" cy="1303.8" r="7.25"/>
<circle cx="2030.8" cy="1306.2" r="7.25"/>
<circle cx="2067.0" cy="1308.0" r="7.25"/>
<circle cx="2012.0" cy="1312.5" r="7.25"/>
<circle cx="2049.5" cy="1315.0" r="7.25"/>
<circle cx="2085.8" cy="1318.8" r="7.25"/>
<circle cx="2012.0" cy="1326.2" r="7.25"/>
<circle cx="2030.8" cy="1322.5" r="7.25"/>
<circle cx="2067.0" cy="1323.8" r="7.25"/>
<circle cx="2049.5" cy="1330.0" r="7.25"/>
<circle cx="2085.8" cy="1332.5" r="7.25"/>
<circle cx="2012.0" cy="1348.8" r="7.25"/>
<circle cx="2049.5" cy="1350.0" r="7.25"/>
<circle cx="2062.0" cy="1352.5" r="7.25"/>
<circle cx="2074.5" cy="1355.0" r="7.25"/>
<circle cx="2085.8" cy="1360.0" r="7.25"/>
<circle cx="2024.5" cy="1361.2" r="7.25"/>
<circle cx="2037.0" cy="1362.5" r="7.25"/>
<circle cx="2049.5" cy="1367.5" r="7.25"/>
<circle cx="2062.0" cy="1368.8" r="7.25"/>
<circle cx="2024.5" cy="1375.0" r="7.25"/>
<circle cx="2074.5" cy="1375.0" r="7.25"/>
<circle cx="2035.8" cy="1390.0" r="7.25"/>
<circle cx="2062.8" cy="1399.5" r="7.25"/>
<circle cx="2035.8" cy="1410.0" r="7.25"/>
<circle cx="2049.5" cy="1432.5" r="7.25"/>
<circle cx="2008.0" cy="1320.8" r="7.25"/>
<circle cx="2035.0" cy="1322.2" r="7.25"/>
<circle cx="2057.5" cy="1321.8" r="7.25"/>
<circle cx="2083.0" cy="1320.5" r="7.25"/>
<circle cx="2017.0" cy="1332.2" r="7.25"/>
<circle cx="2022.0" cy="1341.5" r="7.25"/>
<circle cx="2046.2" cy="1340.5" r="7.25"/>
<circle cx="2069.5" cy="1340.8" r="7.25"/>
<circle cx="2014.2" cy="1351.0" r="7.25"/>
<circle cx="2065.0" cy="1352.8" r="7.25"/>
<circle cx="2022.5" cy="1364.0" r="7.25"/>
<circle cx="2032.5" cy="1364.0" r="7.25"/>
<circle cx="2069.2" cy="1363.8" r="7.25"/>
<circle cx="2063.8" cy="1372.8" r="7.25"/>
<circle cx="2075.8" cy="1373.2" r="7.25"/>
<circle cx="2178.8" cy="1160.8" r="7.25"/>
<circle cx="2164.5" cy="1256.2" r="7.25"/>
<circle cx="2192.0" cy="1256.2" r="7.25"/>
<circle cx="2192.0" cy="1280.0" r="7.25"/>
<circle cx="2164.5" cy="1291.8" r="7.25"/>
<circle cx="2169.5" cy="1311.2" r="7.25"/>
<circle cx="2185.8" cy="1313.8" r="7.25"/>
<circle cx="2192.0" cy="1326.2" r="7.25"/>
<circle cx="2163.2" cy="1332.5" r="7.25"/>
<circle cx="2142.0" cy="1337.5" r="7.25"/>
<circle cx="2214.5" cy="1337.5" r="7.25"/>
<circle cx="2152.0" cy="1343.8" r="7.25"/>
<circle cx="2167.0" cy="1342.5" r="7.25"/>
<circle cx="2179.5" cy="1341.2" r="7.25"/>
<circle cx="2194.5" cy="1342.5" r="7.25"/>
<circle cx="2207.0" cy="1343.8" r="7.25"/>
<circle cx="2179.5" cy="1350.0" r="7.25"/>
<circle cx="2164.5" cy="1366.2" r="7.25"/>
<circle cx="2179.5" cy="1362.5" r="7.25"/>
<circle cx="2187.0" cy="1362.5" r="7.25"/>
<circle cx="2174.5" cy="1372.5" r="7.25"/>
<circle cx="2192.0" cy="1375.0" r="7.25"/>
<circle cx="2164.5" cy="1377.5" r="7.25"/>
<circle cx="2179.5" cy="1382.5" r="7.25"/>
<circle cx="2164.5" cy="1390.0" r="7.25"/>
<circle cx="2192.0" cy="1390.0" r="7.25"/>
<circle cx="2179.5" cy="1392.5" r="7.25"/>
<circle cx="2164.5" cy="1417.0" r="7.25"/>
<circle cx="2192.0" cy="1416.2" r="7.25"/>
<circle cx="2178.8" cy="1442.0" r="7.25"/>
<circle cx="2150.0" cy="1337.8" r="7.25"/>
<circle cx="2164.0" cy="1338.2" r="7.25"/>
<circle cx="2175.0" cy="1338.0" r="7.25"/>
<circle cx="2210.8" cy="1337.5" r="7.25"/>
<circle cx="2182.2" cy="1348.0" r="7.25"/>
<circle cx="2206.0" cy="1348.0" r="7.25"/>
<circle cx="2159.0" cy="1357.0" r="7.25"/>
<circle cx="2158.8" cy="1379.2" r="7.25"/>
<circle cx="2182.8" cy="1377.0" r="7.25"/>
</g>
<g stroke="#0a0606" fill="none">
<path d="M256.75 2336.40V2148.75H325.00V2336.40" stroke-width="10.5" fill="#fff" stroke-linejoin="miter"/>
<path d="M359.25 2336.40V2162.50H428.00V2336.40" stroke-width="10.5" fill="#fff" stroke-linejoin="miter"/>
<path d="M460.50 2336.40V2197.50H529.25V2336.40" stroke-width="10.5" fill="#fff" stroke-linejoin="miter"/>
<path d="M562.50 2336.40V2208.75H630.00V2336.40" stroke-width="10.5" fill="#fff" stroke-linejoin="miter"/>
<path d="M272.50 2060.00H308.50M290.50 2060.00V2228.75M272.50 2228.75H308.50" stroke-width="3.0"/>
<path d="M374.00 2067.50H411.00M392.50 2067.50V2251.25M374.00 2251.25H411.00" stroke-width="3.0"/>
<path d="M476.10 2141.25H512.90M494.50 2141.25V2247.00M476.10 2247.00H512.90" stroke-width="3.0"/>
<path d="M577.35 2151.00H614.15M595.75 2151.00V2257.00M577.35 2257.00H614.15" stroke-width="3.0"/>
<path d="M223.50 1890.80V2336.40M203.80 2336.40H665.20" stroke-width="7.0"/>
<path d="M203.80 1894.30H223.50M203.80 1982.72H223.50M203.80 2071.14H223.50M203.80 2159.56H223.50M203.80 2247.98H223.50M203.80 2336.40H223.50" stroke-width="7.0"/>
<path d="M290.50 2336.40V2355.60M392.00 2336.40V2355.60M494.50 2336.40V2355.60M595.75 2336.40V2355.60" stroke-width="7.6"/>
</g>
<g fill="#0a0606">
<circle cx="316.2" cy="1966.8" r="9.2"/>
<circle cx="265.5" cy="1975.8" r="9.2"/>
<circle cx="290.5" cy="2014.5" r="9.2"/>
<circle cx="278.0" cy="2032.0" r="9.2"/>
<circle cx="290.5" cy="2040.0" r="9.2"/>
<circle cx="303.8" cy="2051.2" r="9.2"/>
<circle cx="316.2" cy="2060.0" r="9.2"/>
<circle cx="278.0" cy="2072.5" r="9.2"/>
<circle cx="290.5" cy="2070.0" r="9.2"/>
<circle cx="303.8" cy="2070.0" r="9.2"/>
<circle cx="265.5" cy="2086.2" r="9.2"/>
<circle cx="290.5" cy="2085.0" r="9.2"/>
<circle cx="316.2" cy="2088.0" r="9.2"/>
<circle cx="290.5" cy="2116.2" r="9.2"/>
<circle cx="290.5" cy="2131.2" r="9.2"/>
<circle cx="316.2" cy="2141.2" r="9.2"/>
<circle cx="265.5" cy="2155.0" r="9.2"/>
<circle cx="290.5" cy="2157.5" r="9.2"/>
<circle cx="316.2" cy="2158.8" r="9.2"/>
<circle cx="265.5" cy="2168.8" r="9.2"/>
<circle cx="290.5" cy="2172.5" r="9.2"/>
<circle cx="316.2" cy="2170.0" r="9.2"/>
<circle cx="265.5" cy="2192.5" r="9.2"/>
<circle cx="278.0" cy="2190.0" r="9.2"/>
<circle cx="290.5" cy="2187.5" r="9.2"/>
<circle cx="303.8" cy="2190.0" r="9.2"/>
<circle cx="316.2" cy="2192.5" r="9.2"/>
<circle cx="290.5" cy="2200.0" r="9.2"/>
<circle cx="278.0" cy="2207.5" r="9.2"/>
<circle cx="290.5" cy="2220.0" r="9.2"/>
<circle cx="290.5" cy="2233.8" r="9.2"/>
<circle cx="265.5" cy="2247.5" r="9.2"/>
<circle cx="316.2" cy="2246.2" r="9.2"/>
<circle cx="265.5" cy="2273.8" r="9.2"/>
<circle cx="316.2" cy="2270.0" r="9.2"/>
<circle cx="290.5" cy="2293.8" r="9.2"/>
<circle cx="260.0" cy="2185.0" r="9.2"/>
<circle cx="322.5" cy="2185.0" r="9.2"/>
<circle cx="303.8" cy="2200.0" r="9.2"/>
<circle cx="265.5" cy="2200.0" r="9.2"/>
<circle cx="316.2" cy="2200.0" r="9.2"/>
<circle cx="311.5" cy="2191.5" r="9.2"/>
<circle cx="392.5" cy="2009.5" r="9.2"/>
<circle cx="392.5" cy="2062.0" r="9.2"/>
<circle cx="392.5" cy="2145.8" r="9.2"/>
<circle cx="368.0" cy="2204.5" r="9.2"/>
<circle cx="418.8" cy="2220.0" r="9.2"/>
<circle cx="368.0" cy="2229.5" r="9.2"/>
<circle cx="392.5" cy="2249.2" r="9.2"/>
<circle cx="494.5" cy="2097.5" r="9.2"/>
<circle cx="494.5" cy="2117.0" r="9.2"/>
<circle cx="494.5" cy="2177.5" r="9.2"/>
<circle cx="520.0" cy="2189.5" r="9.2"/>
<circle cx="494.5" cy="2196.2" r="9.2"/>
<circle cx="520.0" cy="2206.2" r="9.2"/>
<circle cx="468.8" cy="2210.0" r="9.2"/>
<circle cx="520.0" cy="2232.5" r="9.2"/>
<circle cx="468.8" cy="2235.0" r="9.2"/>
<circle cx="494.5" cy="2272.5" r="9.2"/>
<circle cx="621.2" cy="2141.2" r="9.2"/>
<circle cx="590.8" cy="2147.5" r="9.2"/>
<circle cx="571.2" cy="2156.2" r="9.2"/>
<circle cx="585.0" cy="2160.0" r="9.2"/>
<circle cx="600.0" cy="2162.5" r="9.2"/>
<circle cx="621.2" cy="2168.8" r="9.2"/>
<circle cx="571.2" cy="2176.2" r="9.2"/>
<circle cx="590.8" cy="2172.5" r="9.2"/>
<circle cx="610.0" cy="2176.2" r="9.2"/>
<circle cx="595.8" cy="2225.0" r="9.2"/>
<circle cx="571.2" cy="2253.8" r="9.2"/>
<circle cx="595.8" cy="2252.5" r="9.2"/>
<circle cx="621.2" cy="2246.2" r="9.2"/>
<circle cx="621.2" cy="2267.5" r="9.2"/>
<circle cx="571.2" cy="2272.5" r="9.2"/>
<circle cx="595.8" cy="2301.8" r="9.2"/>
<circle cx="612.0" cy="2148.8" r="9.2"/>
<circle cx="603.0" cy="2160.5" r="9.2"/>
<circle cx="618.8" cy="2160.8" r="9.2"/>
<circle cx="612.0" cy="2173.8" r="9.2"/>
</g>
<g stroke="#0a0606" fill="none">
<path d="M992.90 2334.80V2127.50H1061.15V2334.80" stroke-width="10.5" fill="#fff" stroke-linejoin="miter"/>
<path d="M1095.40 2334.80V2141.25H1163.40V2334.80" stroke-width="10.5" fill="#fff" stroke-linejoin="miter"/>
<path d="M1197.90 2334.80V2116.25H1265.90V2334.80" stroke-width="10.5" fill="#fff" stroke-linejoin="miter"/>
<path d="M1299.90 2334.80V2147.50H1369.15V2334.80" stroke-width="10.5" fill="#fff" stroke-linejoin="miter"/>
<path d="M1009.00 2082.50H1045.00M1027.00 2082.50V2167.50" stroke-width="3.0"/>
<path d="M1110.25 2112.00H1147.25M1128.75 2112.00V2162.00M1110.25 2162.00H1147.25" stroke-width="3.0"/>
<path d="M1212.75 2057.50H1249.75M1231.25 2057.50V2166.25M1212.75 2166.25H1249.75" stroke-width="3.0"/>
<path d="M1315.25 2115.00H1352.25M1333.75 2115.00V2175.00" stroke-width="3.0"/>
<path d="M958.30 1886.70V2334.80M937.70 2334.80H1401.60" stroke-width="7.0"/>
<path d="M937.70 1890.20H958.30M937.70 2001.35H958.30M937.70 2112.50H958.30M937.70 2223.65H958.30M937.70 2334.80H958.30" stroke-width="7.0"/>
<path d="M1027.00 2334.80V2354.00M1128.75 2334.80V2354.00M1231.25 2334.80V2354.00M1333.75 2334.80V2354.00" stroke-width="7.6"/>
</g>
<g fill="#0a0606">
<circle cx="1027.0" cy="1973.0" r="9.2"/>
<circle cx="1027.0" cy="2030.5" r="9.2"/>
<circle cx="1027.0" cy="2063.0" r="9.2"/>
<circle cx="1001.2" cy="2073.8" r="9.2"/>
<circle cx="1052.5" cy="2073.8" r="9.2"/>
<circle cx="1001.2" cy="2088.8" r="9.2"/>
<circle cx="1027.0" cy="2093.8" r="9.2"/>
<circle cx="1052.5" cy="2103.8" r="9.2"/>
<circle cx="1001.2" cy="2112.5" r="9.2"/>
<circle cx="1040.0" cy="2110.0" r="9.2"/>
<circle cx="1052.5" cy="2115.0" r="9.2"/>
<circle cx="1027.0" cy="2181.2" r="9.2"/>
<circle cx="1052.5" cy="2178.8" r="9.2"/>
<circle cx="1001.2" cy="2171.2" r="9.2"/>
<circle cx="996.2" cy="2131.2" r="9.2"/>
<circle cx="1006.8" cy="2131.2" r="9.2"/>
<circle cx="1017.2" cy="2131.2" r="9.2"/>
<circle cx="1038.2" cy="2131.2" r="9.2"/>
<circle cx="1048.8" cy="2131.2" r="9.2"/>
<circle cx="1059.2" cy="2131.2" r="9.2"/>
<circle cx="1001.5" cy="2141.2" r="9.2"/>
<circle cx="1012.0" cy="2141.2" r="9.2"/>
<circle cx="1022.5" cy="2141.2" r="9.2"/>
<circle cx="1043.5" cy="2141.2" r="9.2"/>
<circle cx="1054.0" cy="2141.2" r="9.2"/>
<circle cx="996.2" cy="2151.2" r="9.2"/>
<circle cx="1006.8" cy="2151.2" r="9.2"/>
<circle cx="1017.2" cy="2151.2" r="9.2"/>
<circle cx="1027.8" cy="2151.2" r="9.2"/>
<circle cx="1048.8" cy="2151.2" r="9.2"/>
<circle cx="1059.2" cy="2151.2" r="9.2"/>
<circle cx="1001.5" cy="2161.2" r="9.2"/>
<circle cx="1012.0" cy="2161.2" r="9.2"/>
<circle cx="1022.5" cy="2161.2" r="9.2"/>
<circle cx="1033.0" cy="2161.2" r="9.2"/>
<circle cx="1054.0" cy="2161.2" r="9.2"/>
<circle cx="996.2" cy="2171.2" r="9.2"/>
<circle cx="1006.8" cy="2171.2" r="9.2"/>
<circle cx="1017.2" cy="2171.2" r="9.2"/>
<circle cx="1027.8" cy="2171.2" r="9.2"/>
<circle cx="1038.2" cy="2171.2" r="9.2"/>
<circle cx="1059.2" cy="2171.2" r="9.2"/>
<circle cx="1128.8" cy="2095.0" r="9.2"/>
<circle cx="1128.8" cy="2117.5" r="9.2"/>
<circle cx="1103.8" cy="2137.5" r="9.2"/>
<circle cx="1154.5" cy="2137.5" r="9.2"/>
<circle cx="1128.8" cy="2147.5" r="9.2"/>
<circle cx="1154.5" cy="2158.8" r="9.2"/>
<circle cx="1103.8" cy="2168.8" r="9.2"/>
<circle cx="1231.2" cy="2016.2" r="9.2"/>
<circle cx="1231.2" cy="2046.2" r="9.2"/>
<circle cx="1231.2" cy="2079.2" r="9.2"/>
<circle cx="1257.0" cy="2097.5" r="9.2"/>
<circle cx="1205.8" cy="2110.0" r="9.2"/>
<circle cx="1205.8" cy="2128.8" r="9.2"/>
<circle cx="1257.0" cy="2117.5" r="9.2"/>
<circle cx="1231.2" cy="2161.2" r="9.2"/>
<circle cx="1205.8" cy="2182.5" r="9.2"/>
<circle cx="1257.0" cy="2179.2" r="9.2"/>
<circle cx="1348.8" cy="2095.0" r="9.2"/>
<circle cx="1340.0" cy="2102.5" r="9.2"/>
<circle cx="1330.0" cy="2107.5" r="9.2"/>
<circle cx="1348.8" cy="2122.5" r="9.2"/>
<circle cx="1337.5" cy="2125.0" r="9.2"/>
<circle cx="1318.2" cy="2130.8" r="9.2"/>
<circle cx="1345.0" cy="2140.0" r="9.2"/>
<circle cx="1330.0" cy="2142.5" r="9.2"/>
<circle cx="1352.5" cy="2147.5" r="9.2"/>
<circle cx="1315.0" cy="2152.5" r="9.2"/>
<circle cx="1330.0" cy="2160.0" r="9.2"/>
<circle cx="1352.5" cy="2162.5" r="9.2"/>
<circle cx="1337.5" cy="2167.5" r="9.2"/>
<circle cx="1318.2" cy="2180.0" r="9.2"/>
<circle cx="1333.8" cy="2197.5" r="9.2"/>
<circle cx="1305.0" cy="2160.0" r="9.2"/>
<circle cx="1365.0" cy="2152.5" r="9.2"/>
<circle cx="1304.2" cy="2143.8" r="9.2"/>
<circle cx="1319.2" cy="2143.5" r="9.2"/>
<circle cx="1333.8" cy="2141.5" r="9.2"/>
<circle cx="1364.0" cy="2142.5" r="9.2"/>
<circle cx="1311.0" cy="2154.8" r="9.2"/>
<circle cx="1340.0" cy="2154.2" r="9.2"/>
<circle cx="1356.5" cy="2154.0" r="9.2"/>
<circle cx="1319.2" cy="2167.2" r="9.2"/>
<circle cx="1334.8" cy="2167.8" r="9.2"/>
<circle cx="1348.5" cy="2167.5" r="9.2"/>
<circle cx="1363.0" cy="2169.0" r="9.2"/>
</g>
<g stroke="#0a0606" fill="none">
<path d="M1740.70 2334.50V2086.25H1808.95V2334.50" stroke-width="10.5" fill="#fff" stroke-linejoin="miter"/>
<path d="M1843.95 2334.50V2122.00H1912.70V2334.50" stroke-width="10.5" fill="#fff" stroke-linejoin="miter"/>
<path d="M1947.70 2334.50V2088.75H2016.45V2334.50" stroke-width="10.5" fill="#fff" stroke-linejoin="miter"/>
<path d="M2050.70 2334.50V2125.00H2120.20V2334.50" stroke-width="10.5" fill="#fff" stroke-linejoin="miter"/>
<path d="M1756.00 2028.00H1793.00M1774.50 2028.00V2139.50" stroke-width="3.0"/>
<path d="M1860.05 2095.50H1897.45M1878.75 2095.50V2143.50M1860.05 2143.50H1897.45" stroke-width="3.0"/>
<path d="M1963.00 2011.75H2001.00M1982.00 2011.75V2158.75M1963.00 2158.75H2001.00" stroke-width="3.0"/>
<path d="M2067.05 2082.50H2104.45M2085.75 2082.50V2162.50" stroke-width="3.0"/>
<path d="M1705.60 1880.80V2334.50M1685.80 2334.50H2154.50" stroke-width="7.0"/>
<path d="M1685.80 1884.30H1705.60M1685.80 1974.34H1705.60M1685.80 2064.38H1705.60M1685.80 2154.42H1705.60M1685.80 2244.46H1705.60M1685.80 2334.50H1705.60" stroke-width="7.0"/>
<path d="M1774.50 2334.50V2353.70M1878.25 2334.50V2353.70M1982.00 2334.50V2353.70M2085.75 2334.50V2353.70" stroke-width="7.6"/>
</g>
<g fill="#0a0606">
<circle cx="1800.5" cy="1945.0" r="9.2"/>
<circle cx="1749.5" cy="1958.2" r="9.2"/>
<circle cx="1749.5" cy="2003.8" r="9.2"/>
<circle cx="1800.5" cy="2008.2" r="9.2"/>
<circle cx="1774.5" cy="2013.8" r="9.2"/>
<circle cx="1762.5" cy="2018.8" r="9.2"/>
<circle cx="1749.5" cy="2033.2" r="9.2"/>
<circle cx="1787.5" cy="2037.5" r="9.2"/>
<circle cx="1800.5" cy="2038.0" r="9.2"/>
<circle cx="1774.5" cy="2045.0" r="9.2"/>
<circle cx="1762.5" cy="2050.5" r="9.2"/>
<circle cx="1787.5" cy="2060.0" r="9.2"/>
<circle cx="1749.5" cy="2066.2" r="9.2"/>
<circle cx="1774.5" cy="2064.5" r="9.2"/>
<circle cx="1800.5" cy="2067.0" r="9.2"/>
<circle cx="1745.5" cy="2091.2" r="9.2"/>
<circle cx="1756.0" cy="2091.2" r="9.2"/>
<circle cx="1766.5" cy="2091.2" r="9.2"/>
<circle cx="1777.0" cy="2091.2" r="9.2"/>
<circle cx="1787.5" cy="2091.2" r="9.2"/>
<circle cx="1798.0" cy="2091.2" r="9.2"/>
<circle cx="1750.8" cy="2101.2" r="9.2"/>
<circle cx="1761.2" cy="2101.2" r="9.2"/>
<circle cx="1771.8" cy="2101.2" r="9.2"/>
<circle cx="1782.2" cy="2101.2" r="9.2"/>
<circle cx="1792.8" cy="2101.2" r="9.2"/>
<circle cx="1803.2" cy="2101.2" r="9.2"/>
<circle cx="1745.5" cy="2111.2" r="9.2"/>
<circle cx="1756.0" cy="2111.2" r="9.2"/>
<circle cx="1766.5" cy="2111.2" r="9.2"/>
<circle cx="1777.0" cy="2111.2" r="9.2"/>
<circle cx="1787.5" cy="2111.2" r="9.2"/>
<circle cx="1798.0" cy="2111.2" r="9.2"/>
<circle cx="1750.8" cy="2121.2" r="9.2"/>
<circle cx="1761.2" cy="2121.2" r="9.2"/>
<circle cx="1771.8" cy="2121.2" r="9.2"/>
<circle cx="1782.2" cy="2121.2" r="9.2"/>
<circle cx="1792.8" cy="2121.2" r="9.2"/>
<circle cx="1803.2" cy="2121.2" r="9.2"/>
<circle cx="1745.5" cy="2131.2" r="9.2"/>
<circle cx="1756.0" cy="2131.2" r="9.2"/>
<circle cx="1766.5" cy="2131.2" r="9.2"/>
<circle cx="1777.0" cy="2131.2" r="9.2"/>
<circle cx="1787.5" cy="2131.2" r="9.2"/>
<circle cx="1798.0" cy="2131.2" r="9.2"/>
<circle cx="1750.8" cy="2141.2" r="9.2"/>
<circle cx="1761.2" cy="2141.2" r="9.2"/>
<circle cx="1771.8" cy="2141.2" r="9.2"/>
<circle cx="1782.2" cy="2141.2" r="9.2"/>
<circle cx="1792.8" cy="2141.2" r="9.2"/>
<circle cx="1803.2" cy="2141.2" r="9.2"/>
<circle cx="1878.8" cy="2075.0" r="9.2"/>
<circle cx="1870.0" cy="2100.0" r="9.2"/>
<circle cx="1852.5" cy="2115.0" r="9.2"/>
<circle cx="1852.5" cy="2141.2" r="9.2"/>
<circle cx="1886.2" cy="2137.5" r="9.2"/>
<circle cx="1892.5" cy="2125.0" r="9.2"/>
<circle cx="1982.0" cy="1949.2" r="9.2"/>
<circle cx="1982.0" cy="1972.5" r="9.2"/>
<circle cx="1982.0" cy="2029.2" r="9.2"/>
<circle cx="1982.0" cy="2061.2" r="9.2"/>
<circle cx="1957.0" cy="2107.5" r="9.2"/>
<circle cx="2007.0" cy="2102.5" r="9.2"/>
<circle cx="1982.0" cy="2127.0" r="9.2"/>
<circle cx="2007.0" cy="2130.0" r="9.2"/>
<circle cx="1957.0" cy="2141.2" r="9.2"/>
<circle cx="1957.0" cy="2166.2" r="9.2"/>
<circle cx="2007.0" cy="2160.0" r="9.2"/>
<circle cx="2085.8" cy="2024.5" r="9.2"/>
<circle cx="2112.0" cy="2067.5" r="9.2"/>
<circle cx="2085.8" cy="2085.0" r="9.2"/>
<circle cx="2112.0" cy="2086.2" r="9.2"/>
<circle cx="2060.8" cy="2103.8" r="9.2"/>
<circle cx="2085.8" cy="2125.0" r="9.2"/>
<circle cx="2065.0" cy="2140.0" r="9.2"/>
<circle cx="2080.0" cy="2142.5" r="9.2"/>
<circle cx="2100.0" cy="2140.0" r="9.2"/>
<circle cx="2115.0" cy="2135.0" r="9.2"/>
<circle cx="2055.0" cy="2152.5" r="9.2"/>
<circle cx="2070.0" cy="2152.5" r="9.2"/>
<circle cx="2085.8" cy="2152.5" r="9.2"/>
<circle cx="2102.5" cy="2152.5" r="9.2"/>
<circle cx="2112.0" cy="2164.5" r="9.2"/>
<circle cx="2056.2" cy="2132.0" r="9.2"/>
<circle cx="2082.8" cy="2130.2" r="9.2"/>
<circle cx="2112.2" cy="2131.8" r="9.2"/>
<circle cx="2062.8" cy="2142.5" r="9.2"/>
<circle cx="2076.2" cy="2145.0" r="9.2"/>
<circle cx="2092.0" cy="2143.5" r="9.2"/>
<circle cx="2056.5" cy="2157.0" r="9.2"/>
<circle cx="2069.8" cy="2156.2" r="9.2"/>
<circle cx="2084.0" cy="2155.5" r="9.2"/>
<circle cx="2113.2" cy="2155.5" r="9.2"/>
</g>
<g fill="#231815" stroke="#231815" stroke-width="0.5" stroke-linejoin="round" font-family="'Liberation Sans', Arial, sans-serif">
<text transform="translate(65.4 78.0) scale(0.93 1)" font-size="62">A</text>
<text transform="translate(144 119.8) scale(0.93 1)" font-size="51">T2</text>
<text transform="translate(394 155.0) scale(0.993 1)" font-size="50" text-anchor="middle">Acetic acid</text>
<text transform="translate(186.60 238.60) scale(0.975 1)" font-size="36.4" text-anchor="end">0.185</text>
<text transform="translate(186.60 317.52) scale(0.975 1)" font-size="36.4" text-anchor="end">0.180</text>
<text transform="translate(186.60 396.45) scale(0.975 1)" font-size="36.4" text-anchor="end">0.175</text>
<text transform="translate(186.60 475.38) scale(0.975 1)" font-size="36.4" text-anchor="end">0.170</text>
<text transform="translate(186.60 554.30) scale(0.975 1)" font-size="36.4" text-anchor="end">0.165</text>
<text transform="translate(186.60 633.23) scale(0.975 1)" font-size="36.4" text-anchor="end">0.160</text>
<text transform="translate(186.60 712.15) scale(0.975 1)" font-size="36.4" text-anchor="end">0.155</text>
<text transform="translate(316.10 752.55) rotate(-45)" font-size="39" text-anchor="end">Control</text>
<text transform="translate(444.70 752.55) rotate(-45)" font-size="39" text-anchor="end">GDM</text>
<text transform="translate(68 437) rotate(-90) scale(1.09 1)" font-size="57" text-anchor="middle" stroke="none" font-family="'Liberation Serif', 'Times New Roman', serif">μg/mL</text>
<text transform="translate(617.4 78.3) scale(0.93 1)" font-size="62">B</text>
<text transform="translate(936.5 155.2) scale(0.993 1)" font-size="50" text-anchor="middle">Propionic acid</text>
<text transform="translate(766.20 254.50) scale(0.975 1)" font-size="36.4" text-anchor="end">0.008</text>
<text transform="translate(766.20 367.55) scale(0.975 1)" font-size="36.4" text-anchor="end">0.006</text>
<text transform="translate(766.20 480.60) scale(0.975 1)" font-size="36.4" text-anchor="end">0.004</text>
<text transform="translate(766.20 593.65) scale(0.975 1)" font-size="36.4" text-anchor="end">0.002</text>
<text transform="translate(766.20 706.70) scale(0.975 1)" font-size="36.4" text-anchor="end">0.000</text>
<text transform="translate(882.35 752.10) rotate(-45)" font-size="39" text-anchor="end">Control</text>
<text transform="translate(1011.70 753.10) rotate(-45)" font-size="39" text-anchor="end">GDM</text>
<text transform="translate(639.9 438) rotate(-90) scale(1.09 1)" font-size="57" text-anchor="middle" stroke="none" font-family="'Liberation Serif', 'Times New Roman', serif">μg/mL</text>
<text x="952.5" y="244.5" font-size="56" text-anchor="middle" fill="#6b6b6b" stroke="none">*</text>
<text transform="translate(1191.4 78.3) scale(0.93 1)" font-size="62">C</text>
<text transform="translate(1548 155.2) scale(0.993 1)" font-size="50" text-anchor="middle">Butyric acid</text>
<text transform="translate(1338.00 248.30) scale(0.975 1)" font-size="36.4" text-anchor="end">0.012</text>
<text transform="translate(1338.00 364.70) scale(0.975 1)" font-size="36.4" text-anchor="end">0.009</text>
<text transform="translate(1338.00 481.10) scale(0.975 1)" font-size="36.4" text-anchor="end">0.006</text>
<text transform="translate(1338.00 597.50) scale(0.975 1)" font-size="36.4" text-anchor="end">0.003</text>
<text transform="translate(1338.00 713.90) scale(0.975 1)" font-size="36.4" text-anchor="end">0.000</text>
<text transform="translate(1460.10 751.60) rotate(-45)" font-size="39" text-anchor="end">Control</text>
<text transform="translate(1590.00 752.80) rotate(-45)" font-size="39" text-anchor="end">GDM</text>
<text transform="translate(1214 437.5) rotate(-90) scale(1.09 1)" font-size="57" text-anchor="middle" stroke="none" font-family="'Liberation Serif', 'Times New Roman', serif">μg/mL</text>
<text transform="translate(1788.4 78.3) scale(0.93 1)" font-size="62">D</text>
<text transform="translate(2110 155.2) scale(0.993 1)" font-size="50" text-anchor="middle">Total</text>
<text transform="translate(1938.90 252.20) scale(0.975 1)" font-size="36.4" text-anchor="end">0.22</text>
<text transform="translate(1938.90 367.18) scale(0.975 1)" font-size="36.4" text-anchor="end">0.21</text>
<text transform="translate(1938.90 482.15) scale(0.975 1)" font-size="36.4" text-anchor="end">0.20</text>
<text transform="translate(1938.90 597.12) scale(0.975 1)" font-size="36.4" text-anchor="end">0.19</text>
<text transform="translate(1938.90 712.10) scale(0.975 1)" font-size="36.4" text-anchor="end">0.18</text>
<text transform="translate(2064.60 752.50) rotate(-45)" font-size="39" text-anchor="end">Control</text>
<text transform="translate(2189.95 751.50) rotate(-45)" font-size="39" text-anchor="end">GDM</text>
<text transform="translate(1844.6 437.2) rotate(-90) scale(1.09 1)" font-size="57" text-anchor="middle" stroke="none" font-family="'Liberation Serif', 'Times New Roman', serif">μg/mL</text>
<text transform="translate(65.4 900.6) scale(0.93 1)" font-size="62">E</text>
<text transform="translate(144 972.2) scale(0.93 1)" font-size="51">T3</text>
<text transform="translate(391 1000.9) scale(0.993 1)" font-size="50" text-anchor="middle">Acetic acid</text>
<text transform="translate(191.10 1084.50) scale(0.975 1)" font-size="36.4" text-anchor="end">0.185</text>
<text transform="translate(191.10 1176.00) scale(0.975 1)" font-size="36.4" text-anchor="end">0.180</text>
<text transform="translate(191.10 1267.50) scale(0.975 1)" font-size="36.4" text-anchor="end">0.175</text>
<text transform="translate(191.10 1359.00) scale(0.975 1)" font-size="36.4" text-anchor="end">0.170</text>
<text transform="translate(191.10 1450.50) scale(0.975 1)" font-size="36.4" text-anchor="end">0.165</text>
<text transform="translate(191.10 1542.00) scale(0.975 1)" font-size="36.4" text-anchor="end">0.160</text>
<text transform="translate(307.40 1578.10) rotate(-45)" font-size="39" text-anchor="end">Control</text>
<text transform="translate(439.95 1579.70) rotate(-45)" font-size="39" text-anchor="end">GDM</text>
<text transform="translate(68 1259.4) rotate(-90) scale(1.09 1)" font-size="57" text-anchor="middle" stroke="none" font-family="'Liberation Serif', 'Times New Roman', serif">μg/mL</text>
<text x="371.25" y="1100.75" font-size="56" text-anchor="middle" fill="#6b6b6b" stroke="none">*</text>
<text transform="translate(617.4 900.6) scale(0.93 1)" font-size="62">F</text>
<text transform="translate(936.5 1000.9) scale(0.993 1)" font-size="50" text-anchor="middle">Propionic acid</text>
<text transform="translate(766.90 1081.50) scale(0.975 1)" font-size="36.4" text-anchor="end">0.012</text>
<text transform="translate(766.90 1196.30) scale(0.975 1)" font-size="36.4" text-anchor="end">0.009</text>
<text transform="translate(766.90 1311.10) scale(0.975 1)" font-size="36.4" text-anchor="end">0.006</text>
<text transform="translate(766.90 1425.90) scale(0.975 1)" font-size="36.4" text-anchor="end">0.003</text>
<text transform="translate(766.90 1540.70) scale(0.975 1)" font-size="36.4" text-anchor="end">0.000</text>
<text transform="translate(884.85 1576.80) rotate(-45)" font-size="39" text-anchor="end">Control</text>
<text transform="translate(1014.50 1579.60) rotate(-45)" font-size="39" text-anchor="end">GDM</text>
<text transform="translate(639.9 1259.4) rotate(-90) scale(1.09 1)" font-size="57" text-anchor="middle" stroke="none" font-family="'Liberation Serif', 'Times New Roman', serif">μg/mL</text>
<text transform="translate(1191.4 900.6) scale(0.93 1)" font-size="62">G</text>
<text transform="translate(1549 1000.9) scale(0.993 1)" font-size="50" text-anchor="middle">Butyric acid</text>
<text transform="translate(1350.80 1086.20) scale(0.975 1)" font-size="36.4" text-anchor="end">0.010</text>
<text transform="translate(1350.80 1178.38) scale(0.975 1)" font-size="36.4" text-anchor="end">0.008</text>
<text transform="translate(1350.80 1270.56) scale(0.975 1)" font-size="36.4" text-anchor="end">0.006</text>
<text transform="translate(1350.80 1362.74) scale(0.975 1)" font-size="36.4" text-anchor="end">0.004</text>
<text transform="translate(1350.80 1454.92) scale(0.975 1)" font-size="36.4" text-anchor="end">0.002</text>
<text transform="translate(1350.80 1547.10) scale(0.975 1)" font-size="36.4" text-anchor="end">0.000</text>
<text transform="translate(1490.20 1577.70) rotate(-45)" font-size="39" text-anchor="end">Control</text>
<text transform="translate(1619.95 1581.00) rotate(-45)" font-size="39" text-anchor="end">GDM</text>
<text transform="translate(1215.7 1259.4) rotate(-90) scale(1.09 1)" font-size="57" text-anchor="middle" stroke="none" font-family="'Liberation Serif', 'Times New Roman', serif">μg/mL</text>
<text x="1527.5" y="1100.75" font-size="56" text-anchor="middle" fill="#6b6b6b" stroke="none">*</text>
<text transform="translate(1788.4 900.6) scale(0.93 1)" font-size="62">H</text>
<text transform="translate(2110 1000.9) scale(0.993 1)" font-size="50" text-anchor="middle">Total</text>
<text transform="translate(1940.80 1084.60) scale(0.975 1)" font-size="36.4" text-anchor="end">0.23</text>
<text transform="translate(1940.80 1175.54) scale(0.975 1)" font-size="36.4" text-anchor="end">0.22</text>
<text transform="translate(1940.80 1266.48) scale(0.975 1)" font-size="36.4" text-anchor="end">0.21</text>
<text transform="translate(1940.80 1357.42) scale(0.975 1)" font-size="36.4" text-anchor="end">0.20</text>
<text transform="translate(1940.80 1448.36) scale(0.975 1)" font-size="36.4" text-anchor="end">0.19</text>
<text transform="translate(1940.80 1539.30) scale(0.975 1)" font-size="36.4" text-anchor="end">0.18</text>
<text transform="translate(2076.85 1578.10) rotate(-45)" font-size="39" text-anchor="end">Control</text>
<text transform="translate(2207.45 1582.40) rotate(-45)" font-size="39" text-anchor="end">GDM</text>
<text transform="translate(1844.6 1259.4) rotate(-90) scale(1.09 1)" font-size="57" text-anchor="middle" stroke="none" font-family="'Liberation Serif', 'Times New Roman', serif">μg/mL</text>
<text x="2122.5" y="1100.75" font-size="56" text-anchor="middle" fill="#6b6b6b" stroke="none">*</text>
<text transform="translate(65.4 1743.0) scale(0.93 1)" font-size="62">I</text>
<text transform="translate(144 1787.5) scale(0.93 1)" font-size="51">T3</text>
<text transform="translate(431.5 1823.3) scale(0.993 1)" font-size="50" text-anchor="middle">Acetic acid</text>
<text transform="translate(201.80 1907.30) scale(0.92 1)" font-size="36.4" text-anchor="end">0.185</text>
<text transform="translate(201.80 1995.72) scale(0.92 1)" font-size="36.4" text-anchor="end">0.180</text>
<text transform="translate(201.80 2084.14) scale(0.92 1)" font-size="36.4" text-anchor="end">0.175</text>
<text transform="translate(201.80 2172.56) scale(0.92 1)" font-size="36.4" text-anchor="end">0.170</text>
<text transform="translate(201.80 2260.98) scale(0.92 1)" font-size="36.4" text-anchor="end">0.165</text>
<text transform="translate(201.80 2349.40) scale(0.92 1)" font-size="36.4" text-anchor="end">0.160</text>
<text transform="translate(294.80 2385.30) rotate(-45)" font-size="39" text-anchor="end">Control</text>
<text transform="translate(404.00 2388.40) rotate(-45)" font-size="39" text-anchor="end">GDM1</text>
<text transform="translate(515.00 2385.90) rotate(-45)" font-size="39" text-anchor="end">GDM2</text>
<text transform="translate(608.45 2386.40) rotate(-45)" font-size="39" text-anchor="end">GDM3</text>
<text transform="translate(68 2096.4) rotate(-90) scale(1.09 1)" font-size="57" text-anchor="middle" stroke="none" font-family="'Liberation Serif', 'Times New Roman', serif">μg/mL</text>
<text transform="translate(809.4 1743.0) scale(0.93 1)" font-size="62">J</text>
<text transform="translate(1183.7 1823.3) scale(0.993 1)" font-size="50" text-anchor="middle">Propionic acid</text>
<text transform="translate(935.70 1903.20) scale(0.92 1)" font-size="36.4" text-anchor="end">0.012</text>
<text transform="translate(935.70 2014.35) scale(0.92 1)" font-size="36.4" text-anchor="end">0.009</text>
<text transform="translate(935.70 2125.50) scale(0.92 1)" font-size="36.4" text-anchor="end">0.006</text>
<text transform="translate(935.70 2236.65) scale(0.92 1)" font-size="36.4" text-anchor="end">0.003</text>
<text transform="translate(935.70 2347.80) scale(0.92 1)" font-size="36.4" text-anchor="end">0.000</text>
<text transform="translate(1040.60 2395.70) rotate(-45)" font-size="39" text-anchor="end">Control</text>
<text transform="translate(1139.45 2397.50) rotate(-45)" font-size="39" text-anchor="end">GDM1</text>
<text transform="translate(1246.45 2393.60) rotate(-45)" font-size="39" text-anchor="end">GDM2</text>
<text transform="translate(1357.15 2395.50) rotate(-45)" font-size="39" text-anchor="end">GDM3</text>
<text transform="translate(812.2 2096.4) rotate(-90) scale(1.09 1)" font-size="57" text-anchor="middle" stroke="none" font-family="'Liberation Serif', 'Times New Roman', serif">μg/mL</text>
<text transform="translate(1561.4 1743.0) scale(0.93 1)" font-size="62">K</text>
<text transform="translate(1958 1823.3) scale(0.993 1)" font-size="50" text-anchor="middle">Butyric acid</text>
<text transform="translate(1683.80 1897.30) scale(0.92 1)" font-size="36.4" text-anchor="end">0.010</text>
<text transform="translate(1683.80 1987.34) scale(0.92 1)" font-size="36.4" text-anchor="end">0.008</text>
<text transform="translate(1683.80 2077.38) scale(0.92 1)" font-size="36.4" text-anchor="end">0.006</text>
<text transform="translate(1683.80 2167.42) scale(0.92 1)" font-size="36.4" text-anchor="end">0.004</text>
<text transform="translate(1683.80 2257.46) scale(0.92 1)" font-size="36.4" text-anchor="end">0.002</text>
<text transform="translate(1683.80 2347.50) scale(0.92 1)" font-size="36.4" text-anchor="end">0.000</text>
<text transform="translate(1792.10 2393.50) rotate(-45)" font-size="39" text-anchor="end">Control</text>
<text transform="translate(1886.25 2395.80) rotate(-45)" font-size="39" text-anchor="end">GDM1</text>
<text transform="translate(2005.20 2392.00) rotate(-45)" font-size="39" text-anchor="end">GDM2</text>
<text transform="translate(2101.15 2392.50) rotate(-45)" font-size="39" text-anchor="end">GDM3</text>
<text transform="translate(1566.1 2096.4) rotate(-90) scale(1.09 1)" font-size="57" text-anchor="middle" stroke="none" font-family="'Liberation Serif', 'Times New Roman', serif">μg/mL</text>
<text x="1941.75" y="1905.75" font-size="56" text-anchor="middle" fill="#6b6b6b" stroke="none">*</text>
</g>
</svg>
</body></html>
